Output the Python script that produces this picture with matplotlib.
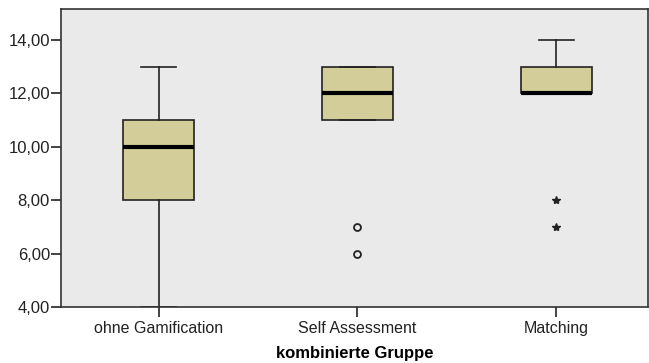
import matplotlib
matplotlib.use("Agg")
import matplotlib.pyplot as plt

# Box statistics (SPSS style boxplot)
groups = ["ohne Gamification", "Self Assessment", "Matching"]
whis_lo = [4, 11, 12]
q1 = [8, 11, 12]
medians = [10, 12, 12]
q3 = [11, 13, 13]
whis_hi = [13, 13, 14]

# outliers: circles = mild, stars = extreme
mild_outliers = {"Self Assessment": [7, 6]}
extreme_outliers = {"Matching": [8, 7]}

yticks = [4, 6, 8, 10, 12, 14]

BOX_COLOR = "#D3CE99"
BG_COLOR = "#EAEAEA"

plt.rcParams["font.family"] = ["Liberation Sans", "DejaVu Sans"]

fig = plt.figure(figsize=(6.49, 3.63), dpi=100)
ax = fig.add_axes([61 / 649, 1 - 307 / 363, 587 / 649, 298 / 363])
ax.set_facecolor(BG_COLOR)

stats = []
for i, g in enumerate(groups):
    stats.append({
        "label": g,
        "whislo": whis_lo[i],
        "q1": q1[i],
        "med": medians[i],
        "q3": q3[i],
        "whishi": whis_hi[i],
        "fliers": [],
    })

ax.bxp(
    stats,
    positions=[1, 2, 3],
    widths=0.36,
    patch_artist=True,
    showfliers=False,
    boxprops=dict(facecolor=BOX_COLOR, edgecolor="#222222", linewidth=1.2),
    medianprops=dict(color="black", linewidth=3),
    whiskerprops=dict(color="#222222", linewidth=1.2),
    capprops=dict(color="#222222", linewidth=1.2),
    capwidths=0.18,
)

for i, g in enumerate(groups):
    vals = mild_outliers.get(g, [])
    ax.plot([i + 1] * len(vals), vals, linestyle="none", marker="o",
            markersize=5, markerfacecolor="none", markeredgecolor="#222222",
            markeredgewidth=1.3)
    vals = extreme_outliers.get(g, [])
    ax.plot([i + 1] * len(vals), vals, linestyle="none", marker="*",
            markersize=6, color="#222222")

ax.set_xlim(0.51, 3.46)
ax.set_ylim(4, 15.16)
ax.set_yticks(yticks)
ax.set_yticklabels([f"{v:.2f}".replace(".", ",") for v in yticks])
ax.set_xticks([1, 2, 3])
ax.set_xticklabels(groups)
ax.tick_params(axis="both", length=7, width=1.2, color="#222222",
               labelcolor="#222222")
ax.tick_params(axis="x", pad=3, labelsize=11.5)
ax.tick_params(axis="y", pad=1, labelsize=12)
ax.set_xlabel("kombinierte Gruppe", fontsize=12, fontweight="bold",
              labelpad=7)

for s in ax.spines.values():
    s.set_color("#333333")
    s.set_linewidth(1.2)

fig.savefig("out.png", dpi=100)
